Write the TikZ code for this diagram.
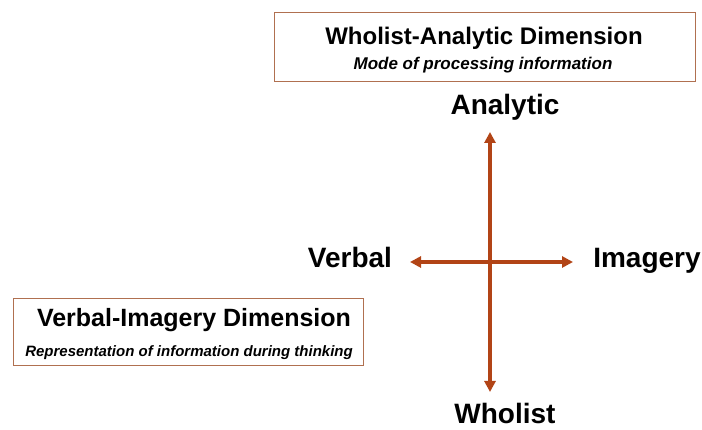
\documentclass[tikz,border=0pt]{standalone}
\usepackage{fontspec}
\setmainfont{Liberation Sans}
\usetikzlibrary{arrows.meta}
\definecolor{arrowc}{RGB}{178,68,22}
\definecolor{boxc}{RGB}{176,112,80}
\tikzset{
  axis/.style={draw=arrowc, line width=3.2pt, {Triangle[length=11pt,width=11pt]}-{Triangle[length=11pt,width=11pt]}},
  dimbox/.style={draw=boxc, line width=1pt, fill=white},
  pole/.style={font=\bfseries\fontsize{28}{32}\selectfont, inner sep=0pt, anchor=base},
  boxtitle/.style={font=\bfseries\fontsize{24}{28}\selectfont, inner sep=0pt, anchor=base},
  boxsub/.style={font=\bfseries\itshape\fontsize{17}{20}\selectfont, inner sep=0pt, anchor=base},
}
\begin{document}
\begin{tikzpicture}[x=1pt,y=-1pt]
\useasboundingbox (0,0) rectangle (702,430);
% top box
\draw[dimbox] (274,13) rectangle (695,82);
\node[boxtitle] (t1) at (484,45) {Wholist-Analytic Dimension};
\node[boxsub] (s1) at (483,70) {Mode of processing information};
% bottom box
\draw[dimbox] (13,299) rectangle (363,366);
\node[boxtitle,font=\bfseries\fontsize{25}{28}\selectfont] (t2) at (194,327) {Verbal-Imagery Dimension};
\node[boxsub,font=\bfseries\itshape\fontsize{15}{18}\selectfont] (s2) at (189,357) {Representation of information during thinking};
% poles
\node[pole] (an) at (505,115) {Analytic};
\node[pole] (wh) at (505,424) {Wholist};
\node[pole] (ve) at (350,268) {Verbal};
\node[pole] (im) at (647,268) {Imagery};
\coordinate (vtop) at (490,132);
\coordinate (vbot) at (490,392);
\coordinate (hl) at (410,262);
\coordinate (hr) at (573,262);
\draw[axis] (vtop) -- (vbot);
\draw[axis] (hl) -- (hr);
\end{tikzpicture}
\end{document}
